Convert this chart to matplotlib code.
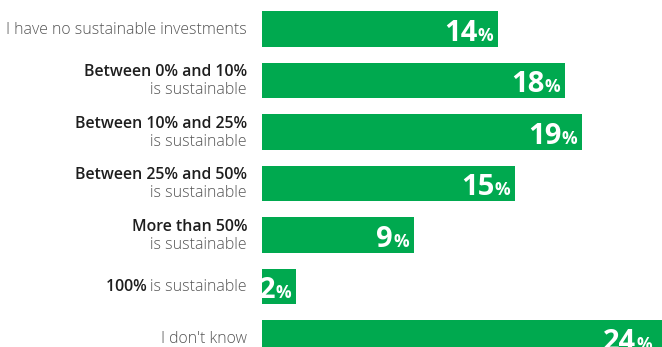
import matplotlib
matplotlib.use("Agg")
import matplotlib.pyplot as plt
from matplotlib.transforms import offset_copy

plt.rcParams["font.family"] = ["Open Sans", "DejaVu Sans"]

GREEN = "#00A94F"
DARK = "#1E1E1E"
GREY = "#555555"

# bold first part / regular second part, one entry per row (top to bottom)
bold_lines = ["", "Between 0% and 10%", "Between 10% and 25%", "Between 25% and 50%",
              "More than 50%", "100%", ""]
plain_lines = ["I have no sustainable investments", "is sustainable", "is sustainable",
               "is sustainable", "is sustainable", "is sustainable", "I don't know"]
two_line = [False, True, True, True, True, False, False]
values = [14, 18, 19, 15, 9, 2, 24]

XMAX = 23.74
DPI = 100
LABEL_SIZE = 11.4

fig = plt.figure(figsize=(6.62, 3.47), dpi=DPI)
fig.patch.set_facecolor("white")
ax = fig.add_axes([262 / 662, 0, 400 / 662, 1])
ax.set_xlim(0, XMAX)
ax.set_ylim(6.177, -0.561)
ax.axis("off")

rows = list(range(len(values)))
ax.barh(rows, values, height=0.693, color=GREEN, clip_on=True)

renderer = fig.canvas.get_renderer()
px = 72 / DPI  # points per pixel


def text_width(t):
    return t.get_window_extent(renderer).width * px


label_x = -15 * px  # gap between labels and bars, in points
for i in rows:
    base = ax.get_yaxis_transform()
    if two_line[i]:
        tr1 = offset_copy(base, fig, x=label_x, y=4.3 * px, units="points")
        tr2 = offset_copy(base, fig, x=label_x, y=-14 * px, units="points")
        ax.text(0, i, bold_lines[i], transform=tr1, ha="right", va="baseline",
                fontsize=LABEL_SIZE, fontweight="semibold", color=DARK)
        ax.text(0, i, plain_lines[i], transform=tr2, ha="right", va="baseline",
                fontsize=LABEL_SIZE, fontweight="light", color=GREY)
    else:
        tr = offset_copy(base, fig, x=label_x, y=-5 * px, units="points")
        t = ax.text(0, i, plain_lines[i], transform=tr, ha="right", va="baseline",
                    fontsize=LABEL_SIZE, fontweight="light", color=GREY)
        if bold_lines[i]:
            w = text_width(t)
            trb = offset_copy(base, fig, x=label_x - w, y=-5 * px, units="points")
            ax.text(0, i, bold_lines[i] + " ", transform=trb, ha="right",
                    va="baseline", fontsize=LABEL_SIZE, fontweight="semibold",
                    color=DARK)

    # value label: big number followed by a small percent sign, inside the bar end
    xend = min(values[i], XMAX - 0.3)
    trp = offset_copy(ax.transData, fig, x=-5 * px, y=-11.8 * px, units="points")
    pct = ax.text(xend, i, "%", transform=trp, ha="right", va="baseline",
                  fontsize=12.5, fontweight="bold", color="white")
    w = text_width(pct)
    trn = offset_copy(ax.transData, fig, x=-5 * px - w, y=-11.8 * px, units="points")
    ax.text(xend, i, str(values[i]), transform=trn, ha="right", va="baseline",
            fontsize=21, fontweight="bold", color="white")

fig.savefig("out.png", dpi=DPI, facecolor="white")
